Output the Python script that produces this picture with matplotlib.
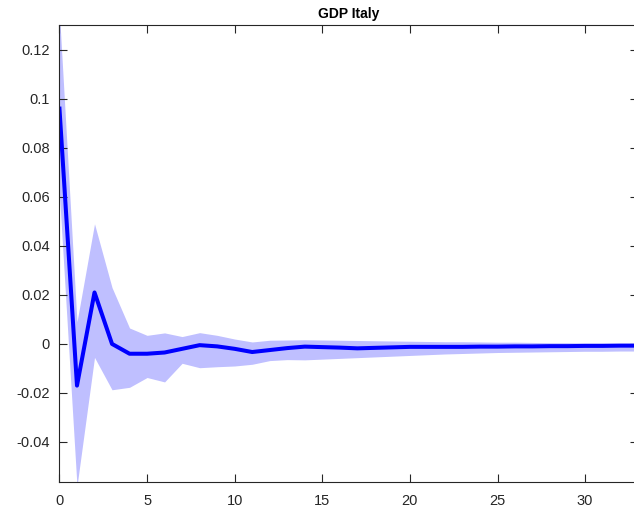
import matplotlib
matplotlib.use("Agg")
import matplotlib.pyplot as plt
import numpy as np

plt.rcParams['font.family'] = ['Liberation Sans', 'DejaVu Sans']

# impulse response of GDP Italy, horizon 0..33
horizon = np.arange(34)
irf = [0.096, -0.017, 0.021, 0.0, -0.004, -0.004, -0.0035, -0.002, -0.0005, -0.001,
       -0.002, -0.0033, -0.0025, -0.0017, -0.0011, -0.0013, -0.0015, -0.0018, -0.0016,
       -0.0014, -0.0012, -0.0012, -0.0012, -0.0012, -0.0011, -0.0011, -0.001, -0.001,
       -0.0009, -0.0009, -0.0008, -0.0008, -0.0007, -0.0007]
upper = [0.135, 0.009, 0.049, 0.023, 0.0065, 0.0035, 0.0045, 0.003, 0.0046, 0.0035,
         0.002, 0.0008, 0.0015, 0.0016, 0.0017, 0.0016, 0.0015, 0.0014, 0.0013, 0.0012,
         0.0011, 0.001, 0.0009, 0.0009, 0.0008, 0.0007, 0.0007, 0.0006, 0.0005, 0.0005,
         0.0004, 0.0004, 0.0003, 0.0003]
lower = [0.061, -0.058, -0.0055, -0.0187, -0.0177, -0.0137, -0.0155, -0.0079, -0.0097,
         -0.0093, -0.009, -0.0083, -0.0068, -0.0064, -0.0065, -0.0062, -0.0059, -0.0056,
         -0.0053, -0.005, -0.0047, -0.0044, -0.0041, -0.0039, -0.0037, -0.0035, -0.0034,
         -0.0033, -0.0032, -0.0031, -0.003, -0.003, -0.0029, -0.0029]

yticks = [-0.04, -0.02, 0, 0.02, 0.04, 0.06, 0.08, 0.1, 0.12]
ytick_labels = ['-0.04', '-0.02', '0', '0.02', '0.04', '0.06', '0.08', '0.1', '0.12']
xticks = [0, 5, 10, 15, 20, 25, 30]

fig = plt.figure(figsize=(6.34, 5.19), dpi=100)
ax = fig.add_axes([0.0938, 0.0719, 0.912, 0.8794])

ax.fill_between(horizon, lower, upper, color='#bfbfff', linewidth=0)
ax.plot(horizon, irf, color='#0000ff', linewidth=2.9)

ax.set_xlim(0, 33)
ax.set_ylim(-0.0562, 0.130)
ax.set_xticks(xticks)
ax.set_xticklabels([str(t) for t in xticks])
ax.set_yticks(yticks)
ax.set_yticklabels(ytick_labels)

axis_col = '#262626'
for s in ax.spines.values():
    s.set_color(axis_col)
    s.set_linewidth(0.8)
ax.tick_params(direction='in', length=5.5, width=0.8, colors=axis_col,
               labelsize=10.5, top=True, right=True, pad=7)
ax.tick_params(axis='x', pad=9)

ax.set_title('GDP Italy', fontsize=10, fontweight='bold', pad=5)

fig.savefig('out.png', dpi=100)
